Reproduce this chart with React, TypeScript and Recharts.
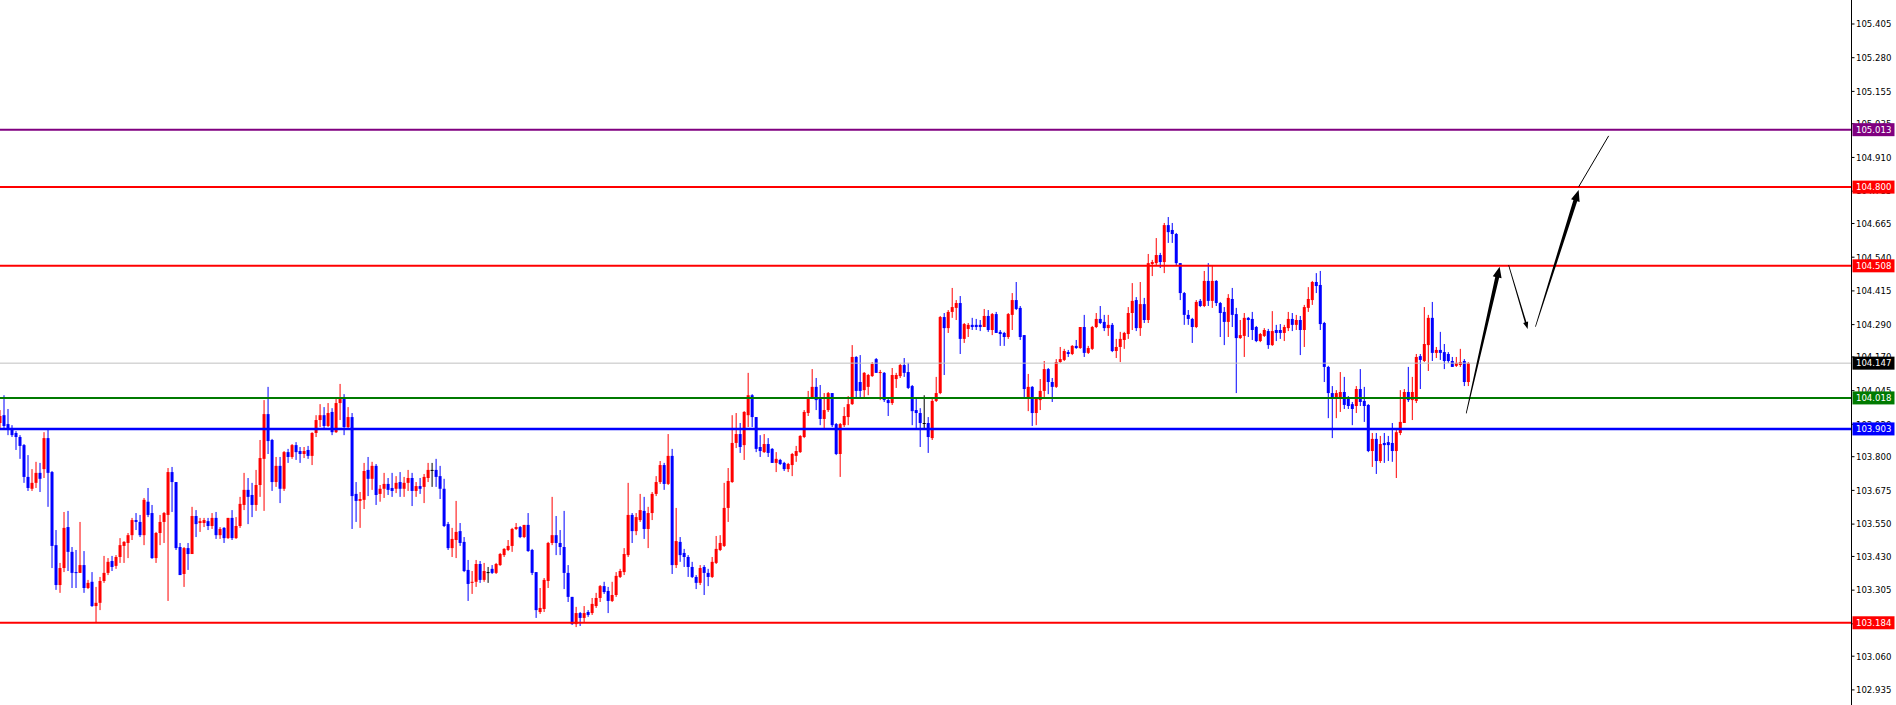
import React from 'react'
import { Bar, ComposedChart, ReferenceLine, XAxis, YAxis } from 'recharts'

// OHLC, one value per candle (oldest first)
const opens = [
  103.925, 103.954, 103.921, 103.906, 103.888, 103.873, 103.843, 103.725, 103.681, 103.703,
  103.740, 103.754, 103.869, 103.743, 103.472, 103.324, 103.387, 103.539, 103.447, 103.372,
  103.369, 103.398, 103.313, 103.336, 103.246, 103.258, 103.339, 103.369, 103.413, 103.395,
  103.428, 103.469, 103.480, 103.509, 103.565, 103.558, 103.509, 103.633, 103.591, 103.424,
  103.517, 103.558, 103.584, 103.743, 103.706, 103.465, 103.365, 103.461, 103.439, 103.580,
  103.554, 103.554, 103.561, 103.543, 103.573, 103.509, 103.536, 103.498, 103.573, 103.498,
  103.543, 103.621, 103.677, 103.658, 103.621, 103.695, 103.792, 103.958, 103.862, 103.706,
  103.766, 103.681, 103.817, 103.799, 103.843, 103.821, 103.810, 103.825, 103.803, 103.888,
  103.936, 103.954, 103.914, 103.966, 103.891, 103.999, 104.014, 103.910, 103.947, 103.662,
  103.636, 103.640, 103.751, 103.718, 103.766, 103.662, 103.681, 103.699, 103.684, 103.681,
  103.706, 103.681, 103.703, 103.721, 103.673, 103.691, 103.688, 103.721, 103.751, 103.751,
  103.728, 103.681, 103.550, 103.461, 103.491, 103.524, 103.484, 103.380, 103.332, 103.336,
  103.402, 103.343, 103.372, 103.384, 103.369, 103.398, 103.435, 103.454, 103.469, 103.532,
  103.539, 103.502, 103.547, 103.454, 103.372, 103.224, 103.235, 103.339, 103.480, 103.509,
  103.480, 103.465, 103.369, 103.280, 103.179, 103.220, 103.202, 103.224, 103.220, 103.246,
  103.276, 103.320, 103.302, 103.265, 103.287, 103.354, 103.372, 103.435, 103.584, 103.524,
  103.565, 103.599, 103.532, 103.591, 103.662, 103.706, 103.769, 103.699, 103.803, 103.398,
  103.484, 103.443, 103.428, 103.391, 103.354, 103.332, 103.391, 103.369, 103.354, 103.406,
  103.454, 103.469, 103.610, 103.706, 103.851, 103.884, 103.843, 103.954, 104.028, 103.947,
  103.836, 103.817, 103.847, 103.829, 103.777, 103.788, 103.777, 103.754, 103.769, 103.803,
  103.817, 103.873, 103.962, 104.018, 104.059, 104.014, 103.940, 103.973, 104.036, 103.921,
  103.810, 103.917, 103.947, 103.995, 104.170, 104.077, 104.047, 104.059, 104.099, 104.162,
  104.111, 104.111, 104.010, 103.999, 104.088, 104.099, 104.140, 104.114, 104.062, 103.973,
  103.962, 103.925, 103.925, 103.869, 104.007, 104.036, 104.318, 104.277, 104.337, 104.352,
  104.370, 104.237, 104.274, 104.289, 104.289, 104.289, 104.281, 104.322, 104.270, 104.329,
  104.263, 104.259, 104.244, 104.326, 104.381, 104.352, 104.251, 104.014, 104.059, 103.962,
  104.010, 104.044, 104.125, 104.077, 104.059, 104.151, 104.159, 104.188, 104.181, 104.211,
  104.203, 104.281, 104.185, 104.200, 104.281, 104.311, 104.300, 104.277, 104.289, 104.192,
  104.207, 104.233, 104.255, 104.333, 104.381, 104.277, 104.366, 104.307, 104.515, 104.518,
  104.548, 104.522, 104.659, 104.641, 104.626, 104.518, 104.407, 104.326, 104.311, 104.281,
  104.378, 104.359, 104.452, 104.378, 104.452, 104.370, 104.337, 104.300, 104.385, 104.329,
  104.240, 104.248, 104.315, 104.311, 104.281, 104.229, 104.248, 104.266, 104.214, 104.270,
  104.270, 104.259, 104.277, 104.311, 104.289, 104.307, 104.270, 104.352, 104.381, 104.448,
  104.437, 104.296, 104.133, 104.036, 104.014, 104.014, 104.040, 104.018, 103.995, 103.988,
  104.051, 104.007, 103.992, 103.821, 103.866, 103.784, 103.851, 103.854, 103.851, 103.821,
  103.888, 103.925, 104.040, 104.010, 104.007, 104.173, 104.155, 104.214, 104.315, 104.185,
  104.196, 104.188, 104.181, 104.155, 104.137, 104.140, 104.155, 104.077,
]

const highs = [
  103.973, 104.028, 103.977, 103.917, 103.895, 103.880, 103.847, 103.806, 103.754, 103.781,
  103.777, 103.891, 103.899, 103.747, 103.528, 103.406, 103.595, 103.599, 103.465, 103.454,
  103.558, 103.450, 103.343, 103.372, 103.317, 103.354, 103.432, 103.424, 103.432, 103.435,
  103.498, 103.487, 103.517, 103.573, 103.591, 103.584, 103.647, 103.684, 103.621, 103.521,
  103.584, 103.595, 103.758, 103.762, 103.706, 103.480, 103.465, 103.480, 103.614, 103.602,
  103.573, 103.573, 103.573, 103.591, 103.595, 103.539, 103.539, 103.573, 103.602, 103.576,
  103.651, 103.740, 103.721, 103.703, 103.751, 103.862, 104.010, 104.059, 103.866, 103.799,
  103.799, 103.821, 103.829, 103.847, 103.854, 103.836, 103.836, 103.840, 103.891, 103.954,
  103.995, 103.984, 103.999, 103.980, 104.014, 104.070, 104.032, 103.984, 103.962, 103.706,
  103.669, 103.777, 103.799, 103.781, 103.773, 103.695, 103.740, 103.721, 103.740, 103.728,
  103.743, 103.725, 103.751, 103.740, 103.706, 103.721, 103.736, 103.777, 103.777, 103.792,
  103.766, 103.718, 103.558, 103.536, 103.636, 103.554, 103.502, 103.417, 103.376, 103.417,
  103.413, 103.406, 103.391, 103.398, 103.406, 103.443, 103.461, 103.491, 103.536, 103.554,
  103.543, 103.547, 103.591, 103.458, 103.372, 103.313, 103.350, 103.484, 103.651, 103.580,
  103.528, 103.599, 103.398, 103.280, 103.243, 103.224, 103.246, 103.231, 103.276, 103.295,
  103.324, 103.336, 103.317, 103.336, 103.372, 103.384, 103.461, 103.703, 103.591, 103.591,
  103.662, 103.651, 103.614, 103.669, 103.728, 103.784, 103.777, 103.884, 103.829, 103.610,
  103.502, 103.458, 103.435, 103.410, 103.361, 103.398, 103.398, 103.384, 103.428, 103.506,
  103.509, 103.703, 103.758, 103.954, 103.962, 103.925, 103.969, 104.111, 104.032, 103.947,
  103.880, 103.884, 103.869, 103.832, 103.817, 103.792, 103.781, 103.777, 103.814, 103.840,
  103.880, 103.973, 104.044, 104.125, 104.092, 104.066, 104.036, 104.040, 104.036, 103.925,
  103.925, 103.984, 104.025, 104.214, 104.173, 104.177, 104.114, 104.107, 104.151, 104.166,
  104.122, 104.114, 104.018, 104.129, 104.111, 104.144, 104.166, 104.148, 104.066, 104.018,
  103.980, 104.028, 103.947, 104.018, 104.096, 104.322, 104.333, 104.344, 104.426, 104.381,
  104.396, 104.296, 104.296, 104.315, 104.311, 104.307, 104.348, 104.344, 104.333, 104.337,
  104.270, 104.263, 104.333, 104.407, 104.448, 104.359, 104.251, 104.107, 104.062, 104.021,
  104.088, 104.155, 104.129, 104.092, 104.162, 104.207, 104.200, 104.196, 104.214, 104.233,
  104.281, 104.326, 104.211, 104.285, 104.333, 104.359, 104.326, 104.326, 104.296, 104.237,
  104.263, 104.263, 104.355, 104.444, 104.392, 104.448, 104.389, 104.552, 104.530, 104.611,
  104.556, 104.667, 104.689, 104.667, 104.630, 104.518, 104.411, 104.344, 104.315, 104.381,
  104.385, 104.489, 104.518, 104.511, 104.455, 104.374, 104.355, 104.403, 104.426, 104.352,
  104.307, 104.333, 104.318, 104.337, 104.285, 104.259, 104.277, 104.274, 104.340, 104.289,
  104.292, 104.289, 104.337, 104.333, 104.326, 104.322, 104.363, 104.429, 104.452, 104.481,
  104.489, 104.300, 104.137, 104.062, 104.047, 104.114, 104.096, 104.025, 104.003, 104.062,
  104.125, 104.059, 103.995, 103.888, 103.888, 103.877, 103.888, 103.877, 103.925, 103.899,
  104.047, 104.051, 104.133, 104.096, 104.181, 104.181, 104.355, 104.326, 104.374, 104.207,
  104.263, 104.218, 104.188, 104.170, 104.170, 104.200, 104.162, 104.151,
]

const lows = [
  103.906, 103.906, 103.880, 103.873, 103.825, 103.792, 103.703, 103.673, 103.673, 103.684,
  103.669, 103.721, 103.614, 103.387, 103.306, 103.295, 103.372, 103.376, 103.313, 103.313,
  103.369, 103.295, 103.309, 103.243, 103.183, 103.231, 103.332, 103.361, 103.376, 103.384,
  103.406, 103.406, 103.424, 103.491, 103.528, 103.502, 103.472, 103.576, 103.421, 103.406,
  103.472, 103.480, 103.265, 103.595, 103.454, 103.361, 103.317, 103.380, 103.439, 103.502,
  103.521, 103.539, 103.528, 103.532, 103.495, 103.495, 103.480, 103.495, 103.491, 103.495,
  103.536, 103.602, 103.550, 103.576, 103.599, 103.651, 103.599, 103.810, 103.673, 103.688,
  103.628, 103.673, 103.777, 103.792, 103.788, 103.777, 103.795, 103.792, 103.769, 103.873,
  103.910, 103.906, 103.910, 103.880, 103.888, 103.936, 103.880, 103.906, 103.532, 103.558,
  103.536, 103.606, 103.654, 103.677, 103.621, 103.633, 103.647, 103.658, 103.651, 103.665,
  103.651, 103.651, 103.673, 103.617, 103.651, 103.662, 103.628, 103.706, 103.688, 103.688,
  103.643, 103.539, 103.454, 103.428, 103.424, 103.469, 103.372, 103.265, 103.291, 103.317,
  103.332, 103.336, 103.332, 103.365, 103.365, 103.395, 103.428, 103.450, 103.447, 103.528,
  103.498, 103.498, 103.447, 103.361, 103.202, 103.217, 103.224, 103.313, 103.472, 103.435,
  103.435, 103.309, 103.261, 103.176, 103.168, 103.172, 103.187, 103.206, 103.213, 103.239,
  103.261, 103.291, 103.220, 103.261, 103.280, 103.350, 103.361, 103.428, 103.480, 103.509,
  103.558, 103.495, 103.461, 103.565, 103.654, 103.699, 103.677, 103.695, 103.365, 103.387,
  103.410, 103.391, 103.354, 103.350, 103.309, 103.324, 103.287, 103.320, 103.350, 103.402,
  103.450, 103.465, 103.558, 103.703, 103.832, 103.814, 103.788, 103.910, 103.910, 103.817,
  103.799, 103.814, 103.799, 103.777, 103.743, 103.769, 103.747, 103.743, 103.728, 103.781,
  103.814, 103.869, 103.951, 104.014, 103.973, 103.917, 103.899, 103.966, 103.910, 103.806,
  103.725, 103.910, 103.917, 103.992, 104.021, 104.021, 104.021, 104.028, 104.096, 104.111,
  104.010, 104.003, 103.951, 103.992, 104.055, 104.092, 104.096, 104.051, 103.917, 103.903,
  103.836, 103.906, 103.814, 103.862, 104.003, 104.032, 104.103, 104.259, 104.315, 104.307,
  104.181, 104.222, 104.244, 104.270, 104.270, 104.266, 104.281, 104.263, 104.251, 104.259,
  104.211, 104.211, 104.237, 104.270, 104.344, 104.233, 104.018, 103.969, 103.914, 103.917,
  103.973, 104.014, 104.032, 104.003, 104.055, 104.148, 104.155, 104.170, 104.177, 104.200,
  104.200, 104.170, 104.181, 104.196, 104.277, 104.292, 104.266, 104.248, 104.188, 104.166,
  104.151, 104.200, 104.237, 104.270, 104.266, 104.248, 104.296, 104.296, 104.470, 104.511,
  104.500, 104.481, 104.593, 104.593, 104.511, 104.381, 104.289, 104.289, 104.222, 104.277,
  104.355, 104.355, 104.359, 104.352, 104.359, 104.244, 104.214, 104.244, 104.281, 104.036,
  104.237, 104.170, 104.244, 104.233, 104.225, 104.225, 104.244, 104.200, 104.211, 104.229,
  104.237, 104.229, 104.266, 104.266, 104.270, 104.177, 104.207, 104.337, 104.363, 104.407,
  104.270, 104.077, 103.943, 103.869, 103.943, 103.966, 103.977, 103.977, 103.917, 103.962,
  103.988, 103.929, 103.817, 103.762, 103.736, 103.777, 103.777, 103.784, 103.781, 103.721,
  103.880, 103.925, 104.003, 103.936, 103.999, 104.051, 104.151, 104.118, 104.155, 104.166,
  104.159, 104.125, 104.148, 104.133, 104.133, 104.133, 104.062, 104.062,
]

const closes = [
  103.951, 103.914, 103.899, 103.880, 103.873, 103.840, 103.725, 103.684, 103.703, 103.740,
  103.718, 103.869, 103.740, 103.469, 103.324, 103.387, 103.536, 103.447, 103.369, 103.369,
  103.398, 103.313, 103.332, 103.246, 103.258, 103.339, 103.369, 103.410, 103.391, 103.428,
  103.472, 103.484, 103.509, 103.565, 103.558, 103.509, 103.640, 103.584, 103.424, 103.517,
  103.558, 103.591, 103.743, 103.706, 103.461, 103.361, 103.461, 103.439, 103.580, 103.550,
  103.561, 103.565, 103.543, 103.573, 103.509, 103.532, 103.498, 103.573, 103.498, 103.543,
  103.625, 103.677, 103.651, 103.621, 103.695, 103.795, 103.958, 103.858, 103.706, 103.766,
  103.681, 103.817, 103.799, 103.843, 103.817, 103.810, 103.821, 103.803, 103.888, 103.936,
  103.954, 103.914, 103.962, 103.891, 103.999, 104.014, 103.910, 103.947, 103.654, 103.636,
  103.643, 103.747, 103.718, 103.766, 103.658, 103.681, 103.699, 103.677, 103.673, 103.703,
  103.681, 103.703, 103.721, 103.673, 103.691, 103.681, 103.725, 103.751, 103.751, 103.725,
  103.681, 103.543, 103.461, 103.495, 103.521, 103.480, 103.376, 103.328, 103.336, 103.402,
  103.343, 103.376, 103.372, 103.369, 103.402, 103.439, 103.458, 103.469, 103.532, 103.539,
  103.502, 103.547, 103.450, 103.369, 103.231, 103.239, 103.343, 103.480, 103.509, 103.480,
  103.465, 103.369, 103.280, 103.179, 103.220, 103.202, 103.220, 103.213, 103.254, 103.276,
  103.320, 103.298, 103.265, 103.287, 103.358, 103.376, 103.439, 103.584, 103.524, 103.576,
  103.602, 103.532, 103.591, 103.662, 103.706, 103.769, 103.699, 103.803, 103.398, 103.487,
  103.435, 103.428, 103.391, 103.354, 103.332, 103.387, 103.369, 103.354, 103.410, 103.458,
  103.480, 103.610, 103.710, 103.851, 103.884, 103.836, 103.966, 104.028, 103.947, 103.829,
  103.821, 103.847, 103.814, 103.777, 103.792, 103.773, 103.754, 103.773, 103.810, 103.821,
  103.877, 103.966, 104.021, 104.059, 104.010, 103.940, 103.973, 104.036, 103.917, 103.810,
  103.921, 103.951, 103.995, 104.170, 104.044, 104.044, 104.111, 104.103, 104.144, 104.111,
  104.114, 104.010, 103.999, 104.103, 104.103, 104.140, 104.111, 104.055, 103.969, 103.962,
  103.925, 103.925, 103.873, 104.007, 104.036, 104.318, 104.277, 104.337, 104.355, 104.370,
  104.237, 104.292, 104.289, 104.281, 104.281, 104.281, 104.322, 104.270, 104.329, 104.259,
  104.255, 104.244, 104.329, 104.381, 104.348, 104.244, 104.051, 104.059, 103.962, 104.014,
  104.044, 104.125, 104.077, 104.059, 104.151, 104.162, 104.192, 104.181, 104.211, 104.203,
  104.281, 104.185, 104.203, 104.281, 104.311, 104.296, 104.277, 104.289, 104.192, 104.207,
  104.237, 104.259, 104.333, 104.378, 104.277, 104.366, 104.307, 104.518, 104.522, 104.548,
  104.522, 104.659, 104.633, 104.626, 104.518, 104.407, 104.326, 104.311, 104.281, 104.374,
  104.359, 104.452, 104.378, 104.452, 104.370, 104.333, 104.300, 104.389, 104.326, 104.240,
  104.251, 104.315, 104.307, 104.270, 104.229, 104.255, 104.270, 104.214, 104.266, 104.259,
  104.259, 104.281, 104.311, 104.289, 104.307, 104.270, 104.355, 104.385, 104.448, 104.433,
  104.292, 104.133, 104.036, 104.014, 104.036, 104.040, 103.992, 103.988, 103.977, 104.051,
  104.003, 103.988, 103.821, 103.866, 103.784, 103.847, 103.843, 103.843, 103.821, 103.891,
  103.929, 104.040, 104.010, 104.040, 104.170, 104.159, 104.218, 104.315, 104.185, 104.196,
  104.185, 104.155, 104.155, 104.133, 104.148, 104.151, 104.077, 104.147,
]

const priceTicks = [
  105.405, 105.28, 105.155, 105.035, 104.91, 104.785, 104.665, 104.54, 104.415, 104.29, 104.17,
  104.045, 103.92, 103.8, 103.675, 103.55, 103.43, 103.305, 103.18, 103.06, 102.935,
]

const levelPrices = [105.013, 104.8, 104.508, 104.147, 104.018, 103.903, 103.184]
const levelColors = ['#800080', '#ff0000', '#ff0000', '#c0c0c0', '#007a00', '#0000ff', '#ff0000']
const levelTagColors = ['#800080', '#ff0000', '#ff0000', '#000000', '#007a00', '#0000ff', '#ff0000']
const levelWidths = [2, 2, 2, 1, 2, 2.5, 2]

// hand-drawn forecast strokes: [barIndex, price] start -> end
const arrowStarts = [
  [366.6, 103.961],
  [377.2, 104.511],
  [383.9, 104.282],
  [394.7, 104.801],
]
const arrowEnds = [
  [374.95, 104.505],
  [381.95, 104.274],
  [394.7, 104.789],
  [402.2, 104.99],
]
const arrowKinds = ['thick', 'thin', 'thick', 'line']

const candles = opens.map((open, i) => ({
  i,
  open,
  high: highs[i],
  low: lows[i],
  close: closes[i],
}))

const BULL = '#ff0000'
const BEAR = '#0000ff'
const font = '"DejaVu Sans Condensed", "DejaVu Sans", sans-serif'

function candleColor(c: { open: number; close: number }) {
  if (c.close > c.open) return BULL
  if (c.close < c.open) return BEAR
  return '#000000'
}

function WickShape(props: any) {
  const { x, y, width, height, payload } = props
  const cx = x + width / 2
  return <rect x={cx - 0.5} y={y} width={1} height={Math.max(Math.abs(height), 1)} fill={candleColor(payload)} />
}

function BodyShape(props: any) {
  const { x, y, width, height, payload } = props
  const cx = x + width / 2
  return <rect x={cx - 1.5} y={y} width={3} height={Math.max(Math.abs(height), 1)} fill={candleColor(payload)} />
}

// price scale ticks; the level tags come last in the tick list so they paint over the plain labels
function PriceTick(props: any) {
  const { x, y, payload } = props
  const v = Number(payload.value)
  const k = levelPrices.indexOf(v)
  if (k >= 0) {
    return (
      <g>
        <rect x={x + 1} y={y - 6.5} width={42} height={13} fill={levelTagColors[k]} />
        <text x={x + 4.5} y={y} dy="0.35em" fontSize={9.5} fontFamily={font} fill="#fff">
          {v.toFixed(3)}
        </text>
      </g>
    )
  }
  return (
    <g>
      <line x1={x} x2={x + 3} y1={y} y2={y} stroke="#000" />
      <text x={x + 4.5} y={y} dy="0.35em" fontSize={9.5} fontFamily={font} fill="#000">
        {v.toFixed(3)}
      </text>
    </g>
  )
}

function makeArrow(kind: string) {
  return (props: any) => {
    const { x1, y1, x2, y2 } = props
    if (kind === 'line') {
      return <line x1={x1} y1={y1} x2={x2} y2={y2} stroke="#000" strokeWidth={1} />
    }
    const dx = x2 - x1
    const dy = y2 - y1
    const len = Math.sqrt(dx * dx + dy * dy)
    const ux = dx / len
    const uy = dy / len
    const nx = -uy
    const ny = ux
    const thick = kind === 'thick'
    const w0 = 0.8
    const w1 = thick ? 4 : 1.6
    const hl = thick ? 11 : 7
    const hw = thick ? 4.5 : 2.6
    const bx = x2 - ux * hl
    const by = y2 - uy * hl
    const pts = [
      [x1 + (nx * w0) / 2, y1 + (ny * w0) / 2],
      [bx + (nx * w1) / 2, by + (ny * w1) / 2],
      [bx + nx * hw, by + ny * hw],
      [x2, y2],
      [bx - nx * hw, by - ny * hw],
      [bx - (nx * w1) / 2, by - (ny * w1) / 2],
      [x1 - (nx * w0) / 2, y1 - (ny * w0) / 2],
    ]
    return <polygon points={pts.map((p) => p.join(',')).join(' ')} fill="#000" />
  }
}

export default function App() {
  return (
    <div style={{ position: 'absolute', left: 0, top: 0, width: 1896, height: 705, background: '#fff' }}>
      <ComposedChart
        width={1896}
        height={705}
        data={candles}
        margin={{ top: 0, right: 0, bottom: 0, left: 0 }}
      >
        <XAxis xAxisId="w" dataKey="i" type="number" domain={[0.125, 462.9]} allowDataOverflow hide />
        <XAxis xAxisId="b" dataKey="i" type="number" domain={[0.125, 462.9]} allowDataOverflow hide />
        <YAxis
          orientation="right"
          width={44.5}
          domain={[102.879, 105.494]}
          allowDataOverflow
          ticks={[...priceTicks, ...levelPrices]}
          interval={0}
          tickSize={0}
          tickMargin={0}
          axisLine={{ stroke: '#000' }}
          tickLine={false}
          tick={<PriceTick />}
        />
        {levelPrices.map((p, k) => (
          <ReferenceLine
            key={'lvl' + k}
            xAxisId="w"
            y={p}
            stroke={levelColors[k]}
            strokeWidth={levelWidths[k]}
          />
        ))}
        <Bar
          xAxisId="w"
          dataKey={(d: any) => [d.low, d.high]}
          barSize={1}
          shape={<WickShape />}
          isAnimationActive={false}
        />
        <Bar
          xAxisId="b"
          dataKey={(d: any) => [Math.min(d.open, d.close), Math.max(d.open, d.close)]}
          barSize={3}
          shape={<BodyShape />}
          isAnimationActive={false}
        />
        {arrowStarts.map((s, k) => (
          <ReferenceLine
            key={'arr' + k}
            xAxisId="w"
            ifOverflow="visible"
            segment={[
              { x: s[0], y: s[1] },
              { x: arrowEnds[k][0], y: arrowEnds[k][1] },
            ]}
            shape={makeArrow(arrowKinds[k])}
          />
        ))}
      </ComposedChart>
    </div>
  )
}
